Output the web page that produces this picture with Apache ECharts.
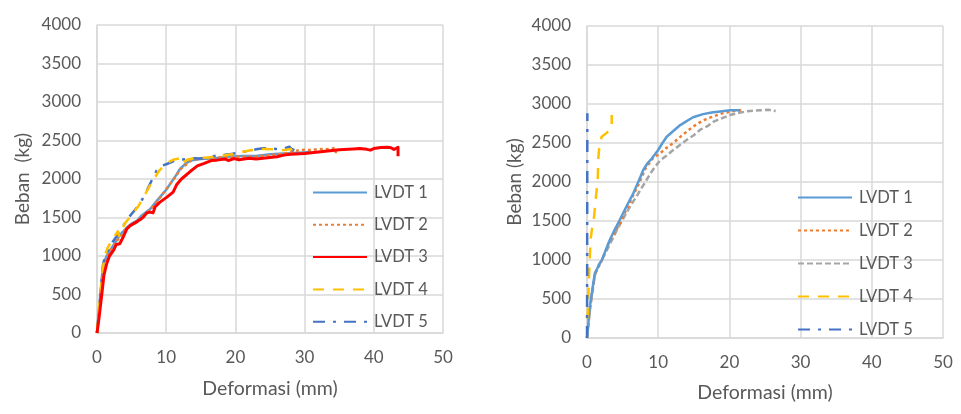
<!DOCTYPE html>
<html>
<head>
<meta charset="utf-8">
<script src="https://cdn.jsdelivr.net/npm/echarts@6/dist/echarts.min.js"></script>
<style>
    html, body { margin: 0; padding: 0; background: #fff; }
    #chart--deformasi { width: 961px; height: 414px; }
</style>
</head>
<body>
<div id="chart--deformasi"></div>
<script>
// [deformasi (mm), beban (kg)] pairs
const leftLvdt1 = [[0, 0], [0.4, 430], [0.9, 900], [1.4, 1000], [1.9, 1075], [2.8, 1200], [3.5, 1290], [4.3, 1370], [5.0, 1420], [5.8, 1460], [6.5, 1530], [7.7, 1610], [8.4, 1690], [9.1, 1765], [10.0, 1860], [10.6, 1940], [11.3, 2030], [12.0, 2130], [12.8, 2200], [13.5, 2240], [15, 2260], [17, 2270], [19, 2290], [21, 2300], [23, 2300], [25, 2320], [27, 2330], [29, 2340], [31, 2350]];
const leftLvdt2 = [[0, 0], [0.4, 400], [0.9, 880], [1.5, 1000], [2.0, 1080], [2.9, 1200], [4.4, 1370], [5.9, 1460], [7.8, 1610], [9.2, 1770], [10.7, 1950], [12.1, 2130], [13.6, 2240], [15, 2270], [17, 2275], [19, 2290], [21, 2290], [23, 2290], [25, 2310], [27, 2330], [29, 2370], [30, 2380], [31, 2375], [32, 2390], [33, 2385], [34, 2395], [34.5, 2400], [34.5, 2320]];
const leftLvdt3 = [[0, 0], [0.3, 200], [0.7, 510], [1.0, 750], [1.4, 900], [1.8, 1000], [2.4, 1075], [2.8, 1150], [3.3, 1160], [3.8, 1250], [4.3, 1350], [4.8, 1395], [5.5, 1430], [6.2, 1470], [6.7, 1505], [7.2, 1560], [7.7, 1570], [8.1, 1560], [8.4, 1640], [9.1, 1700], [10.1, 1765], [11.0, 1830], [11.5, 1925], [12.2, 2000], [13.5, 2100], [14.5, 2170], [15.4, 2200], [16.5, 2240], [17.3, 2245], [18.5, 2260], [19.0, 2240], [19.8, 2265], [20.5, 2250], [22, 2270], [23, 2260], [24, 2270], [25, 2280], [26, 2290], [27, 2310], [28, 2320], [30, 2330], [31, 2340], [33, 2360], [35, 2380], [37, 2390], [38, 2395], [39, 2385], [39.5, 2375], [40, 2395], [41, 2410], [42, 2413], [42.5, 2405], [42.9, 2383], [43.5, 2413], [43.5, 2297]];
const leftLvdt4 = [[0, 0], [0.2, 250], [0.5, 500], [0.8, 800], [1.1, 1000], [1.5, 1100], [2.0, 1180], [2.5, 1250], [3.0, 1320], [3.2, 1260], [4.0, 1420], [5.0, 1530], [6.0, 1650], [7.0, 1810], [8.0, 1970], [9.0, 2110], [10.0, 2200], [11.0, 2250], [12.0, 2270], [12.3, 2200], [13.0, 2250], [14, 2270], [16, 2280], [18, 2300], [20, 2330], [22, 2370], [24, 2390], [26, 2385], [27, 2375], [28, 2390], [28.2, 2350]];
const leftLvdt5 = [[0, 0], [0.2, 200], [0.4, 340], [0.6, 600], [0.9, 900], [1.2, 1000], [1.6, 1075], [2.0, 1150], [2.4, 1200], [3.0, 1280], [3.3, 1320], [4.0, 1420], [4.8, 1525], [5.5, 1600], [6.2, 1677], [6.8, 1780], [7.2, 1850], [7.9, 1980], [8.6, 2108], [9.3, 2170], [10.1, 2195], [11.0, 2230], [11.5, 2237], [12.5, 2255], [13, 2260], [14, 2270], [15, 2265], [16, 2280], [17, 2300], [18, 2310], [19, 2320], [20, 2335], [21, 2350], [22, 2370], [23, 2385], [24, 2400], [25, 2395], [26, 2390], [27, 2395], [27.8, 2420], [28.3, 2370], [28.5, 2410], [28.6, 2380]];

const rightLvdt1 = [[0, 0], [0.4, 400], [0.8, 650], [1.1, 830], [1.6, 920], [2.1, 1000], [2.6, 1120], [3.2, 1256], [3.9, 1390], [4.6, 1513], [5.5, 1680], [6.5, 1855], [7.2, 2000], [7.9, 2154], [8.5, 2240], [9.1, 2300], [10.0, 2410], [10.6, 2500], [11.2, 2580], [12.2, 2660], [13.1, 2730], [14.0, 2780], [14.9, 2830], [16.3, 2870], [17.5, 2890], [18.7, 2905], [20.1, 2920], [21.5, 2920]];
const rightLvdt2 = [[0, 0], [0.4, 380], [1.1, 820], [2.1, 1000], [3.2, 1250], [4.2, 1400], [4.8, 1500], [5.8, 1700], [6.6, 1850], [7.4, 2000], [8.2, 2170], [9.2, 2300], [10.3, 2370], [11.2, 2440], [12.1, 2500], [13.5, 2610], [14.9, 2710], [16.3, 2790], [17.7, 2840], [19, 2880], [20.1, 2900], [21, 2915], [21.7, 2920], [22, 2910]];
const rightLvdt3 = [[0, 0], [0.4, 350], [1.1, 800], [1.6, 930], [2.3, 1040], [3.2, 1200], [4.2, 1385], [5.2, 1550], [6.3, 1725], [7.0, 1820], [7.5, 1900], [8.2, 2000], [8.9, 2110], [9.6, 2200], [10.3, 2280], [11.2, 2340], [12.1, 2410], [13, 2470], [14, 2540], [15, 2600], [15.9, 2670], [17, 2720], [17.8, 2775], [19, 2820], [20.1, 2860], [21, 2880], [22.4, 2905], [23.5, 2915], [24.3, 2920], [25.5, 2925], [26.5, 2910]];
const rightLvdt4 = [[0.05, 250], [0.14, 363], [0.2, 550], [0.3, 833], [0.4, 1050], [0.5, 1260], [0.7, 1400], [0.9, 1470], [1.26, 1810], [1.5, 2025], [1.6, 2320], [1.73, 2450], [2.06, 2580], [2.76, 2630], [3.47, 2690], [3.47, 2860]];
const rightLvdt5 = [[0, 0], [0.02, 800], [0.03, 1600], [0.04, 2400], [0.05, 2880]];

const legendNames = ['LVDT 1', 'LVDT 2', 'LVDT 3', 'LVDT 4', 'LVDT 5'];
const xTicks = { min: 0, max: 50, interval: 10 };
const yTicks = { min: 0, max: 4000, interval: 500 };

const textColor = '#595959';
const gridColor = '#D9D9D9';
const fontFamily = 'Lato, "Open Sans", sans-serif';

const chart = echarts.init(document.querySelector('#chart--deformasi'), null, { renderer: 'canvas' });

function makeXAxis(gridIndex, nameGap) {
    return {
        gridIndex,
        type: 'value',
        min: xTicks.min,
        max: xTicks.max,
        interval: xTicks.interval,
        name: 'Deformasi (mm)',
        nameLocation: 'middle',
        nameGap,
        nameTextStyle: { color: textColor, fontSize: 19.5, fontFamily },
        axisLine: { lineStyle: { color: gridColor, width: 1.5 } },
        axisTick: { show: false },
        axisLabel: { color: textColor, fontSize: 17, fontFamily, margin: 16 },
        splitLine: { lineStyle: { color: gridColor, width: 1.5 } }
    };
}

function makeYAxis(gridIndex, name, nameGap) {
    return {
        gridIndex,
        type: 'value',
        min: yTicks.min,
        max: yTicks.max,
        interval: yTicks.interval,
        name,
        nameLocation: 'middle',
        nameGap,
        nameTextStyle: { color: textColor, fontSize: 19, fontFamily },
        axisLine: { show: true, lineStyle: { color: gridColor, width: 1.5 } },
        axisTick: { show: false },
        axisLabel: {
            color: textColor,
            fontSize: 17,
            fontFamily,
            margin: 16,
            formatter: (value) => String(value)
        },
        splitLine: { lineStyle: { color: gridColor, width: 1.5 } }
    };
}

function makeSeries(name, data, axisIndex, color, width, dash) {
    return {
        name,
        type: 'line',
        data,
        xAxisIndex: axisIndex,
        yAxisIndex: axisIndex,
        symbol: 'none',
        showSymbol: false,
        smooth: false,
        lineStyle: { color, width, type: dash, cap: 'butt', join: 'round' },
        itemStyle: { color },
        z: 2
    };
}

function makeLegend(prefix, left, top, itemGap) {
    return {
        orient: 'vertical',
        left,
        top,
        padding: 0,
        itemWidth: 54,
        itemHeight: 16,
        itemGap,
        itemStyle: { opacity: 0 },
        data: legendNames.map((n) => prefix + n),
        formatter: (name) => name.slice(prefix.length),
        textStyle: { color: textColor, fontSize: 16.5, fontFamily, lineHeight: 16, padding: [0, 0, 0, 2] }
    };
}

const dotted = [3, 3];
const dashed = [11, 9];
const dashDot = [12, 8, 3, 8];
const shortDash = [6, 3];

chart.setOption({
    animation: false,
    backgroundColor: '#fff',
    grid: [
        { left: 97, right: 518, top: 25, bottom: 81 },
        { left: 587, right: 18, top: 26, bottom: 76 }
    ],
    xAxis: [makeXAxis(0, 46), makeXAxis(1, 45)],
    yAxis: [makeYAxis(0, 'Beban  (kg)', 65), makeYAxis(1, 'Beban (kg)', 63)],
    legend: [
        makeLegend('L ', 312, 184, 15.3),
        makeLegend('R ', 797, 189, 16)
    ],
    series: [
        makeSeries('L LVDT 1', leftLvdt1, 0, '#5B9BD5', 2.5, 'solid'),
        makeSeries('L LVDT 2', leftLvdt2, 0, '#ED7D31', 2.5, dotted),
        makeSeries('L LVDT 5', leftLvdt5, 0, '#4472C4', 2.5, dashDot),
        makeSeries('L LVDT 4', leftLvdt4, 0, '#FFC000', 2.5, dashed),
        makeSeries('L LVDT 3', leftLvdt3, 0, '#FF0000', 3, 'solid'),
        makeSeries('R LVDT 3', rightLvdt3, 1, '#A5A5A5', 2.5, shortDash),
        makeSeries('R LVDT 2', rightLvdt2, 1, '#ED7D31', 2.5, dotted),
        makeSeries('R LVDT 1', rightLvdt1, 1, '#5B9BD5', 2.5, 'solid'),
        makeSeries('R LVDT 4', rightLvdt4, 1, '#FFC000', 2.5, dashed),
        makeSeries('R LVDT 5', rightLvdt5, 1, '#4472C4', 2.5, dashDot)
    ]
});
</script>
</body>
</html>
